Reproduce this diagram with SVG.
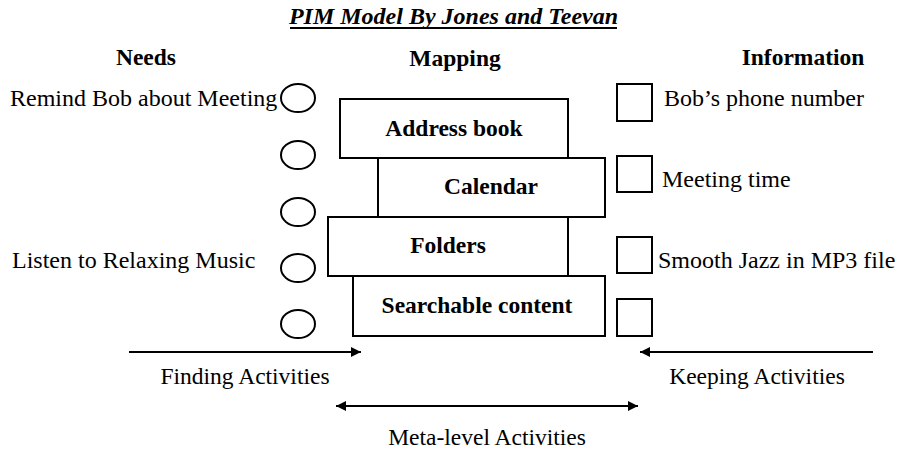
<svg xmlns="http://www.w3.org/2000/svg" width="903" height="452" viewBox="0 0 903 452">
<defs>
<style>
.t{font-family:"Liberation Serif","Times New Roman",serif;font-size:23.5px;fill:#000}
.b{font-weight:bold}
.box{fill:#fff;stroke:#000;stroke-width:2}
.ln{stroke:#000;stroke-width:2;fill:none}
</style>
<marker id="ah" viewBox="0 0 10 10" refX="10" refY="5" markerWidth="11" markerHeight="10" markerUnits="userSpaceOnUse" orient="auto-start-reverse">
<path d="M0,0 L10,5 L0,10 z" fill="#000"/>
</marker>
</defs>
<rect width="903" height="452" fill="#fff"/>
<g id="title">
<text class="t b" x="453.5" y="24" font-style="italic" text-anchor="middle" style="font-size:24px">PIM Model By Jones and Teevan</text>
<line x1="290" y1="28" x2="617" y2="28" stroke="#000" stroke-width="1.8"/>
</g>
<g id="headers">
<text class="t b" x="146" y="65" text-anchor="middle">Needs</text>
<text class="t b" x="455" y="66" text-anchor="middle">Mapping</text>
<text class="t b" x="803" y="65" text-anchor="middle">Information</text>
</g>
<g id="needs">
<text class="t" x="10" y="106" style="font-size:24px">Remind Bob about Meeting</text>
<text class="t" x="12" y="268" style="font-size:24px">Listen to Relaxing Music</text>
<ellipse class="box" cx="298" cy="98" rx="17" ry="14"/>
<ellipse class="box" cx="298" cy="155" rx="17" ry="14"/>
<ellipse class="box" cx="298" cy="212" rx="17" ry="14"/>
<ellipse class="box" cx="298" cy="268" rx="17" ry="14"/>
<ellipse class="box" cx="298" cy="324" rx="17" ry="14"/>
</g>
<g id="address-book">
<rect class="box" x="340" y="99" width="228" height="59"/>
<text class="t b" x="454" y="136" text-anchor="middle">Address book</text>
</g>
<g id="calendar">
<rect class="box" x="378" y="158" width="227" height="59"/>
<text class="t b" x="491" y="194" text-anchor="middle">Calendar</text>
</g>
<g id="folders">
<rect class="box" x="328" y="217" width="240" height="59"/>
<text class="t b" x="448" y="253" text-anchor="middle">Folders</text>
</g>
<g id="searchable-content">
<rect class="box" x="353" y="276" width="252" height="60"/>
<text class="t b" x="477" y="313" text-anchor="middle">Searchable content</text>
</g>
<g id="information">
<rect class="box" x="617" y="84" width="35" height="37"/>
<rect class="box" x="617" y="156" width="35" height="36"/>
<rect class="box" x="617" y="237" width="35" height="36"/>
<rect class="box" x="617" y="299" width="35" height="37"/>
<text class="t" x="664" y="106" style="font-size:24px">Bob’s phone number</text>
<text class="t" x="662" y="187" style="font-size:24px">Meeting time</text>
<text class="t" x="658" y="268" style="font-size:24px">Smooth Jazz in MP3 file</text>
</g>
<g id="connectors">
<line class="ln" x1="129" y1="352" x2="361" y2="352" marker-end="url(#ah)"/>
<line class="ln" x1="873" y1="352" x2="640" y2="352" marker-end="url(#ah)"/>
<line class="ln" x1="336" y1="406" x2="638" y2="406" marker-start="url(#ah)" marker-end="url(#ah)"/>
</g>
<g id="activity-labels">
<text class="t" x="245" y="384" text-anchor="middle">Finding Activities</text>
<text class="t" x="757" y="384" text-anchor="middle">Keeping Activities</text>
<text class="t" x="487" y="445" text-anchor="middle">Meta-level Activities</text>
</g>
</svg>
